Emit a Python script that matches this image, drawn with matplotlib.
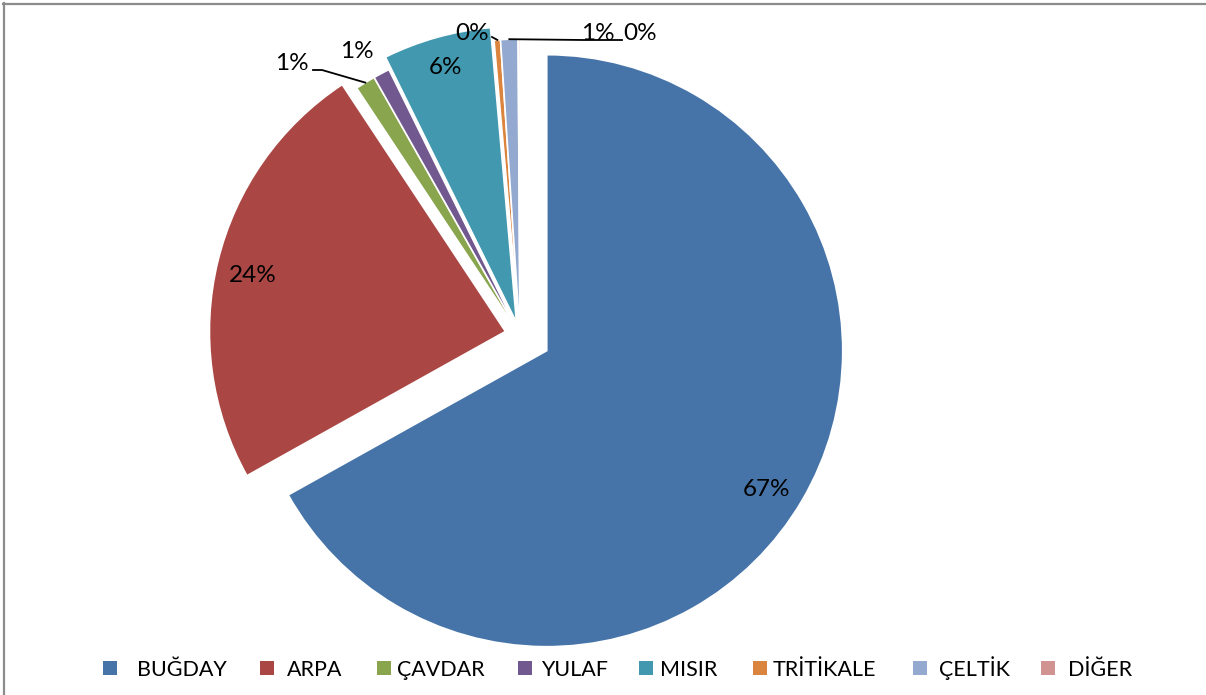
import numpy as np
import matplotlib.pyplot as plt
from matplotlib.lines import Line2D
from matplotlib.patches import Rectangle

plt.rcParams['font.family'] = ['Lato', 'DejaVu Sans']

categories = ['BUĞDAY', 'ARPA', 'ÇAVDAR', 'YULAF', 'MISIR', 'TRİTİKALE', 'ÇELTİK', 'DİĞER']
shares = [66.9, 23.8, 1.1, 0.9, 5.9, 0.35, 0.95, 0.1]
colors = ['#4674A8', '#AA4744', '#89A54E', '#71588F', '#4198AF', '#DB843D', '#93A9CF', '#D19392']

# layout (pixel units, y measured from top)
W, H = 1206, 695
cx, cy_top, R = 520, 335, 296
cy = H - cy_top
explode = [31, 15, 0, 0, 13, 0, 0, 0]
label_pos = [(766, 489), (253, 276), (292, 64), (357, 52), (445, 68), (472, 33), (598, 33), (640, 33)]
legend_marker_x = [110, 267, 384, 525, 646, 760, 920, 1048]
legend_text_x = [137, 287, 397, 541, 660, 773, 939, 1068]
legend_y = 668
legend_base = 676

fig = plt.figure(figsize=(W / 100, H / 100), dpi=100)
ax = fig.add_axes([0, 0, 1, 1])
ax.pie(shares, colors=colors, explode=explode, startangle=90, counterclock=False,
       center=(cx, cy), radius=R,
       wedgeprops=dict(edgecolor='white', linewidth=1.2))
ax.set_xlim(0, W)
ax.set_ylim(0, H)
ax.set_axis_off()

# percent labels
total = sum(shares)
for s, (x, y) in zip(shares, label_pos):
    ax.text(x, H - y, f'{round(s / total * 100):.0f}%', fontsize=17.5,
            ha='center', va='center', color='black')

# leader lines for the small slices
cum = np.cumsum(shares) - np.array(shares) / 2
mid = 360 * cum / total


def arc_point(i):
    a = np.radians(mid[i])
    return cx + R * np.sin(a), cy + R * np.cos(a)


px, py = arc_point(2)
ax.plot([313, 322, px], [H - 70, H - 70, py], color='black', lw=1.3)
px, py = arc_point(5)
ax.plot([492, px], [H - 37, py], color='black', lw=1.3)
px, py = arc_point(6)
ax.plot([px, 583, 622], [py, H - 40, H - 40], color='black', lw=1.3)

# legend
for name, c, mx, tx in zip(categories, colors, legend_marker_x, legend_text_x):
    ax.add_patch(Rectangle((mx - 7, H - legend_y - 7), 14, 14, color=c, lw=0))
    ax.text(tx, H - legend_base, name, fontsize=15.5, ha='left', va='baseline', color='black')

# chart border (top and left visible)
fig.add_artist(Line2D([3 / W, 1], [1 - 4 / H, 1 - 4 / H], color='#8c8c8c', lw=1.6))
fig.add_artist(Line2D([4 / W, 4 / W], [0, 1 - 3 / H], color='#8c8c8c', lw=1.6))

fig.savefig('out.png', dpi=100)
